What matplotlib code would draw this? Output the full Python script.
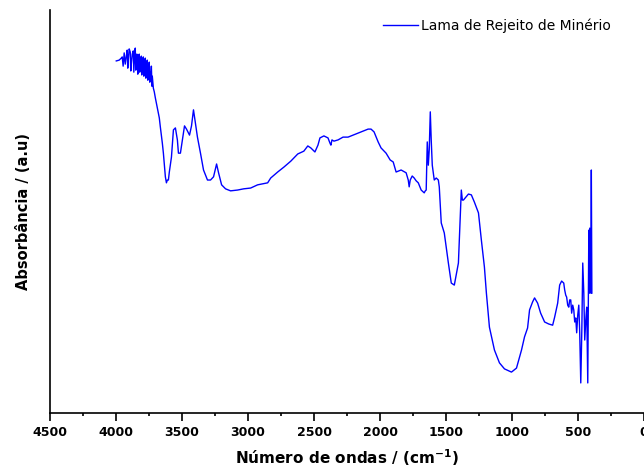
import matplotlib
matplotlib.use("Agg")
import matplotlib.pyplot as plt
from matplotlib.ticker import MultipleLocator

# Wavenumber (cm-1) and absorbance (a.u.)
wavenumber = [
    3998, 3976, 3960, 3953, 3946, 3938, 3930, 3922, 3915, 3911, 3907, 3900, 3892,
    3888, 3884, 3877, 3869, 3865, 3862, 3858, 3854, 3850, 3846, 3842, 3839, 3835,
    3831, 3828, 3824, 3820, 3816, 3812, 3808, 3805, 3801, 3797, 3793, 3789, 3786,
    3782, 3778, 3774, 3770, 3766, 3763, 3759, 3755, 3751, 3748, 3744, 3740, 3736,
    3732, 3728, 3725, 3717, 3710, 3702, 3687, 3672, 3664, 3649, 3641, 3626, 3618,
    3611, 3603, 3596, 3580, 3565, 3550, 3535, 3527, 3512, 3497, 3481, 3466, 3443,
    3428, 3413, 3405, 3383, 3360, 3337, 3307, 3284, 3261, 3238, 3223, 3200, 3170,
    3132, 3079, 3033, 2980, 2927, 2851, 2828, 2775, 2729, 2676, 2623, 2577, 2547,
    2524, 2493, 2470, 2455, 2425, 2394, 2379, 2372, 2364, 2349, 2318, 2280, 2242,
    2182, 2128, 2090, 2068, 2045, 2014, 1992, 1954, 1923, 1900, 1878, 1840, 1802,
    1786, 1779, 1771, 1756, 1741, 1726, 1710, 1688, 1665, 1657, 1650, 1642, 1634,
    1627, 1619, 1612, 1604, 1589, 1574, 1558, 1551, 1536, 1513, 1482, 1460, 1437,
    1406, 1384, 1376, 1368, 1330, 1308, 1285, 1254, 1232, 1209, 1194, 1171, 1133,
    1095, 1057, 1004, 966, 928, 905, 882, 867, 844, 829, 806, 783, 753, 722, 692,
    677, 654, 639, 624, 608, 601, 593, 586, 578, 570, 563, 555, 548, 540, 532, 525,
    517, 510, 502, 494, 487, 479, 471, 464, 456, 449, 441, 434, 426, 418, 414, 411,
    403, 399, 395,
]
absorbance = [
    87.3, 87.5, 88.0, 88.3, 86.0, 89.3, 86.5, 88.5, 90.0, 85.5, 87.5, 90.3, 89.5,
    84.8, 86.5, 89.0, 89.8, 84.5, 86.8, 89.5, 90.5, 85.0, 87.5, 89.0, 88.8, 84.0,
    85.8, 88.5, 89.0, 84.5, 87.0, 88.0, 88.5, 83.8, 85.5, 87.5, 88.3, 83.5, 86.8,
    87.0, 88.0, 83.0, 85.0, 86.5, 87.5, 82.5, 86.0, 85.0, 87.0, 82.0, 84.5, 83.0,
    86.0, 81.0, 83.5, 80.5, 79.6, 78.1, 75.6, 73.1, 70.8, 66.8, 64.3, 58.4, 56.9,
    57.6, 57.6, 59.6, 63.3, 70.1, 70.6, 67.6, 64.3, 64.3, 67.6, 71.1, 70.3, 68.8,
    71.1, 75.1, 73.3, 68.3, 64.3, 60.1, 57.6, 57.6, 58.4, 61.6, 59.4, 56.4, 55.4,
    54.9, 55.1, 55.4, 55.6, 56.4, 56.9, 58.1, 59.6, 60.8, 62.3, 64.1, 64.8, 66.1,
    65.6, 64.6, 66.3, 68.1, 68.6, 68.1, 66.8, 66.3, 67.6, 67.3, 67.6, 68.3, 68.3,
    69.1, 69.8, 70.3, 70.3, 69.6, 67.1, 65.6, 64.3, 62.6, 62.1, 59.6, 60.1, 59.4,
    57.6, 55.9, 57.6, 58.6, 58.1, 57.4, 56.9, 55.1, 54.4, 54.9, 55.1, 67.1, 61.3,
    65.1, 74.6, 67.6, 61.3, 57.6, 58.1, 57.6, 55.9, 46.9, 44.4, 36.9, 31.9, 31.4,
    36.9, 55.1, 52.6, 52.6, 54.1, 53.9, 52.1, 49.4, 42.6, 35.9, 29.4, 20.9, 15.2,
    12.0, 10.5, 9.7, 10.7, 15.2, 18.5, 20.7, 25.2, 27.2, 28.2, 26.9, 24.4, 22.2,
    21.7, 21.4, 23.4, 26.9, 31.4, 32.4, 31.9, 30.2, 28.9, 28.4, 26.4, 25.9, 27.7,
    27.7, 24.4, 26.4, 25.2, 22.2, 23.2, 19.5, 23.9, 26.4, 19.5, 7.0, 20.2, 36.9,
    29.4, 17.7, 22.7, 25.9, 7.0, 45.1, 29.4, 45.6, 29.4, 60.1, 29.4,
]
series_label = "Lama de Rejeito de Minério"
xlabel = "Número de ondas / (cm$^{\\mathbf{-1}}$)"
ylabel = "Absorbância / (a.u)"

plt.rcParams["font.family"] = ["DejaVu Sans"]
plt.rcParams["mathtext.default"] = "bf"

fig = plt.figure(figsize=(6.44, 4.69), dpi=100)
ax = fig.add_axes([50 / 644, 1 - 413 / 469, 594 / 644, 403 / 469])

ax.plot(wavenumber, absorbance, color="#0000ff", lw=1.0, label=series_label)

ax.set_xlim(4500, 0)
ax.set_ylim(-0.5, 100)
ax.xaxis.set_major_locator(MultipleLocator(500))
ax.xaxis.set_minor_locator(MultipleLocator(250))
ax.set_yticks([])
ax.spines["top"].set_visible(False)
ax.spines["right"].set_visible(False)
for s in ("left", "bottom"):
    ax.spines[s].set_linewidth(1.2)
ax.tick_params(axis="x", which="major", direction="out", length=6, width=1.2,
               pad=3.5, labelsize=9)
ax.tick_params(axis="x", which="minor", direction="out", length=2.5, width=1.2)
for lbl in ax.get_xticklabels():
    lbl.set_fontweight("bold")

ax.set_xlabel(xlabel, fontsize=11, fontweight="bold", labelpad=6)
ax.set_ylabel(ylabel, fontsize=10.5, fontweight="bold", labelpad=14)

leg = ax.legend(loc="center left", bbox_to_anchor=(383 / 644, 1 - 26 / 469),
                bbox_transform=fig.transFigure, frameon=False, fontsize=10,
                handlelength=2.5, handletextpad=0.25, borderpad=0,
                borderaxespad=0)

fig.savefig("out.png", dpi=100)
